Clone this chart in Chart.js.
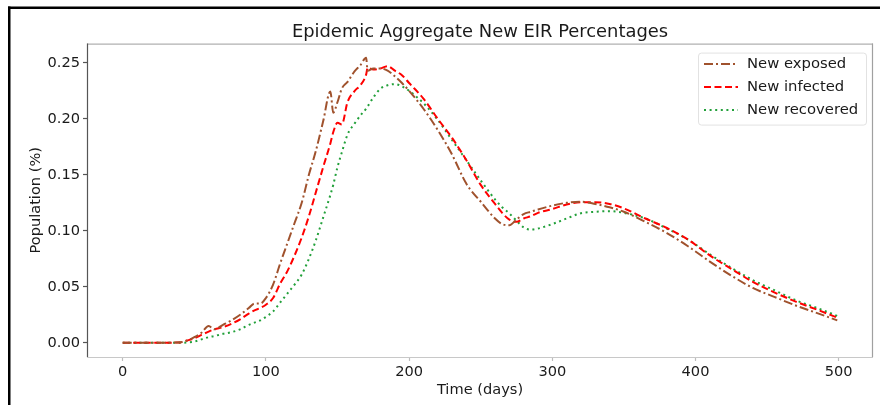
<!DOCTYPE html>
<html>
<head>
<meta charset="utf-8">
<script src="https://cdn.jsdelivr.net/npm/chart.js@4/dist/chart.umd.min.js"></script>
<style>
  html, body { margin: 0; padding: 0; background: #fff; }
  #wrap { width: 880px; height: 405px; position: relative; }
</style>
</head>
<body>
<div id="wrap"><canvas id="c" width="880" height="405"></canvas></div>
<script>
// ---- data ----
const days = [0, 20, 40, 45, 50, 55, 60, 64, 70, 76, 82, 88, 92, 96, 100, 105, 110, 115, 120, 125,
  130, 135, 140, 145, 147, 150, 153, 157, 162, 166, 170, 171, 175, 180, 185, 190, 195, 200, 210, 220,
  230, 240, 250, 260, 265, 270, 275, 280, 285, 290, 300, 310, 320, 330, 340, 350, 365, 380, 395, 410,
  425, 440, 455, 470, 485, 499];

const newExposed = [0, 0, 0.0005, 0.002, 0.005, 0.009, 0.015, 0.012, 0.016, 0.020, 0.025, 0.031, 0.035, 0.035, 0.040, 0.052, 0.071, 0.089, 0.107, 0.125,
  0.150, 0.172, 0.198, 0.2245, 0.2055, 0.215, 0.227, 0.233, 0.2426, 0.248, 0.2545, 0.243, 0.245, 0.245, 0.243, 0.238, 0.232, 0.225, 0.209, 0.190,
  0.168, 0.142, 0.126, 0.111, 0.106, 0.105, 0.110, 0.115, 0.117, 0.119, 0.1225, 0.125, 0.126, 0.124, 0.121, 0.117, 0.108, 0.098, 0.086, 0.0725,
  0.060, 0.049, 0.041, 0.0333, 0.0265, 0.020];

const newInfected = [0, 0, 0.0003, 0.002, 0.004, 0.007, 0.010, 0.012, 0.014, 0.017, 0.021, 0.026, 0.029, 0.031, 0.034, 0.040, 0.053, 0.064, 0.078, 0.094,
  0.113, 0.135, 0.157, 0.178, 0.188, 0.1965, 0.195, 0.215, 0.225, 0.230, 0.2397, 0.2456, 0.244, 0.245, 0.247, 0.243, 0.239, 0.232, 0.218, 0.200,
  0.183, 0.163, 0.141, 0.124, 0.116, 0.110, 0.108, 0.111, 0.113, 0.116, 0.1195, 0.1235, 0.1255, 0.1255, 0.124, 0.120, 0.111, 0.1025, 0.092, 0.078,
  0.066, 0.0545, 0.045, 0.0368, 0.0295, 0.0225];

const newRecovered = [0, 0, 0, 0.0003, 0.001, 0.003, 0.005, 0.006, 0.008, 0.0095, 0.012, 0.016, 0.018, 0.020, 0.0231, 0.028, 0.036, 0.044, 0.052, 0.061,
  0.075, 0.092, 0.112, 0.132, 0.141, 0.157, 0.170, 0.186, 0.196, 0.203, 0.209, 0.211, 0.219, 0.227, 0.230, 0.231, 0.229, 0.225, 0.214, 0.199,
  0.181, 0.163, 0.145, 0.128, 0.121, 0.1155, 0.109, 0.103, 0.101, 0.102, 0.106, 0.111, 0.1157, 0.117, 0.1175, 0.116, 0.111, 0.102, 0.092, 0.079,
  0.067, 0.056, 0.047, 0.038, 0.031, 0.024];

const seriesLabels = ['New exposed', 'New infected', 'New recovered'];
const xTicks = [0, 100, 200, 300, 400, 500];
const yTicks = [0, 0.05, 0.10, 0.15, 0.20, 0.25];

const FONT = "'DejaVu Sans', sans-serif";
const toPts = arr => arr.map((v, i) => ({ x: days[i], y: v }));

const framePlugin = {
  id: 'frame',
  beforeDraw(chart) {
    const ctx = chart.ctx;
    ctx.save();
    ctx.fillStyle = '#ffffff';
    ctx.fillRect(0, 0, chart.width, chart.height);
    ctx.fillStyle = '#000000';
    ctx.fillRect(8, 6.5, chart.width - 8, 2.5);
    ctx.fillRect(8, 6.5, 2.5, chart.height);
    ctx.restore();
  },
  afterDatasetsDraw(chart) {
    const { ctx, chartArea: a } = chart;
    ctx.save();
    ctx.lineWidth = 1.2;
    ctx.strokeStyle = '#b0b0b0';
    ctx.beginPath(); ctx.moveTo(a.left, a.top + 0.5); ctx.lineTo(a.right, a.top + 0.5); ctx.stroke();
    ctx.strokeStyle = '#a0a0a0';
    ctx.beginPath(); ctx.moveTo(a.right - 0.5, a.top); ctx.lineTo(a.right - 0.5, a.bottom); ctx.stroke();
    ctx.strokeStyle = '#c8c8c8';
    ctx.beginPath(); ctx.moveTo(a.left, a.bottom + 0.5); ctx.lineTo(a.right, a.bottom + 0.5); ctx.stroke();
    ctx.strokeStyle = '#555555';
    ctx.beginPath(); ctx.moveTo(a.left + 0.5, a.top); ctx.lineTo(a.left + 0.5, a.bottom); ctx.stroke();
    ctx.restore();
  }
};

const legendPlugin = {
  id: 'lineLegend',
  afterDraw(chart) {
    const { ctx, chartArea: a } = chart;
    const w = 168, h = 72;
    const x0 = a.right - 7 - w, y0 = a.top + 9;
    ctx.save();
    ctx.fillStyle = 'rgba(255,255,255,0.85)';
    ctx.strokeStyle = '#e2e2e2';
    ctx.lineWidth = 1;
    ctx.beginPath();
    ctx.roundRect(x0 + 0.5, y0 + 0.5, w, h, 3);
    ctx.fill(); ctx.stroke();
    chart.data.datasets.forEach((ds, i) => {
      const cy = y0 + 11.5 + i * 23;
      ctx.strokeStyle = ds.borderColor;
      ctx.lineWidth = ds.borderWidth;
      ctx.setLineDash(ds.borderDash);
      ctx.beginPath(); ctx.moveTo(x0 + 6, cy); ctx.lineTo(x0 + 40, cy); ctx.stroke();
      ctx.setLineDash([]);
      ctx.fillStyle = '#1a1a1a';
      ctx.font = '14.8px ' + FONT;
      ctx.textBaseline = 'middle';
      ctx.textAlign = 'left';
      ctx.fillText(ds.label, x0 + 49, cy + 0.5);
    });
    ctx.restore();
  }
};

new Chart(document.getElementById('c'), {
  type: 'line',
  data: {
    datasets: [
      { label: seriesLabels[0], data: toPts(newExposed), borderColor: '#a0522d', borderWidth: 2, borderDash: [9, 3, 2, 3] },
      { label: seriesLabels[1], data: toPts(newInfected), borderColor: '#ff0000', borderWidth: 2, borderDash: [7, 3.5] },
      { label: seriesLabels[2], data: toPts(newRecovered), borderColor: '#22a03a', borderWidth: 2, borderDash: [2, 3.6] }
    ]
  },
  options: {
    responsive: false,
    animation: false,
    devicePixelRatio: 1,
    layout: { padding: { left: 0, right: 7, top: 10, bottom: 0 } },
    elements: { point: { radius: 0 }, line: { cubicInterpolationMode: 'monotone', fill: false } },
    plugins: {
      legend: { display: false },
      tooltip: { enabled: false },
      title: {
        display: true,
        fullSize: false,
        text: 'Epidemic Aggregate New EIR Percentages',
        color: '#1a1a1a',
        font: { family: FONT, size: 17.9, weight: 'normal', lineHeight: 1.2 },
        padding: { top: 11.3, bottom: 0.8 }
      }
    },
    scales: {
      x: {
        type: 'linear',
        min: -24.95, max: 523.95,
        afterBuildTicks: s => { s.ticks = xTicks.map(v => ({ value: v })); },
        afterFit: s => { s.height = 48; },
        border: { display: false },
        grid: { drawOnChartArea: false, drawTicks: true, tickLength: 4, tickColor: '#bdbdbd', tickWidth: 1.2 },
        ticks: { color: '#1a1a1a', font: { family: FONT, size: 14.6 }, padding: 2, maxRotation: 0, callback: v => String(v) },
        title: { display: true, text: 'Time (days)', color: '#1a1a1a', font: { family: FONT, size: 14.6, lineHeight: 1.2 }, padding: { top: 0, bottom: 6.3 } }
      },
      y: {
        type: 'linear',
        min: -0.0127, max: 0.2672,
        afterBuildTicks: s => { s.ticks = yTicks.map(v => ({ value: v })); },
        afterFit: s => { s.width = 87; },
        border: { display: false },
        grid: { drawOnChartArea: false, drawTicks: true, tickLength: 4, tickColor: '#555555', tickWidth: 1.2 },
        ticks: { color: '#1a1a1a', font: { family: FONT, size: 14.6 }, padding: 3, callback: v => v.toFixed(2) },
        title: { display: true, text: 'Population (%)', color: '#1a1a1a', font: { family: FONT, size: 14.6, lineHeight: 1.2 }, padding: { top: 27, bottom: 0 } }
      }
    }
  },
  plugins: [framePlugin, legendPlugin]
});
</script>
</body>
</html>
